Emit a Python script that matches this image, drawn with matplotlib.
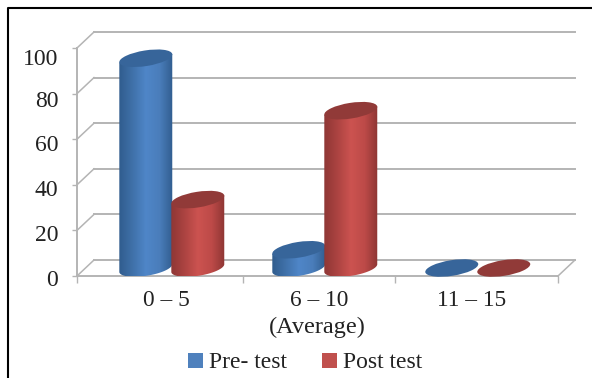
import numpy as np
import matplotlib
matplotlib.use("Agg")
import matplotlib.pyplot as plt
from matplotlib.lines import Line2D
from matplotlib.patches import Ellipse, PathPatch, Patch
from matplotlib.path import Path
from matplotlib.transforms import Affine2D, IdentityTransform
from matplotlib.colors import LinearSegmentedColormap

categories = ["0 – 5", "6 – 10", "11 – 15"]
series_names = ["Pre- test", "Post test"]
pre_test = [92, 8, 0]
post_test = [30, 69, 0]
y_ticks = [0, 20, 40, 60, 80, 100]
x_boundaries = [-0.582, 0.503, 1.497, 2.562]

W, H = 592, 378
plt.rcParams["font.family"] = ["Liberation Serif"]
fig = plt.figure(figsize=(W / 100, H / 100), dpi=100, facecolor="white")
ax = fig.add_axes([77 / W, 1 - 276 / H, (558 - 77) / W, (276 - 48) / H])
ax.set_xlim(x_boundaries[0], x_boundaries[-1])
ax.set_ylim(0, 100)
ax.patch.set_visible(False)

GRID = "#b4b4b4"
back = ax.transData + Affine2D().translate(17, 16)
mid = ax.transData + Affine2D().translate(8.5, 8)

# walls and floor
for v in y_ticks:
    ax.plot([x_boundaries[0], x_boundaries[-1]], [v, v], color=GRID, lw=1.4, transform=back, clip_on=False, zorder=1)
    p0 = ax.transData.transform((x_boundaries[0], v))
    ax.plot([p0[0], p0[0] + 17], [p0[1], p0[1] + 16], color=GRID, lw=1.1,
            transform=IdentityTransform(), clip_on=False, zorder=1)
p1 = ax.transData.transform((x_boundaries[-1], 0))
ax.plot([p1[0], p1[0] + 17], [p1[1], p1[1] + 16], color=GRID, lw=1.1,
        transform=IdentityTransform(), clip_on=False, zorder=1)

for s in ["top", "right"]:
    ax.spines[s].set_visible(False)
for s in ["left", "bottom"]:
    ax.spines[s].set_color(GRID)
    ax.spines[s].set_linewidth(1.4)
    ax.spines[s].set_zorder(1.5)

# axes ticks and labels
ax.set_yticks(y_ticks)
ax.tick_params(axis="y", length=3.5, width=1, color=GRID, labelsize=17, pad=10, labelcolor="#222222")
ax.set_xticks(x_boundaries)
ax.set_xticklabels([])
ax.tick_params(axis="x", which="major", length=5, width=1, color=GRID)
ax.set_xticks([0, 1, 2], minor=True)
ax.set_xticklabels(categories, minor=True, fontsize=16.8, color="#222222")
ax.tick_params(axis="x", which="minor", length=0, pad=10)
ax.set_xlabel("(Average)", fontsize=17.5, color="#222222", labelpad=4)

label_shift = [2, 3, 3, 4, 5, 9]
for lab, d in zip(ax.get_yticklabels(), label_shift):
    lab.set_transform(lab.get_transform() + Affine2D().translate(0, -d))

# cylinders
A, B, TILT = 26.8, 7.8, np.deg2rad(9)
GROUP_OFFSET = -0.018
HALF = 26.0 / 153


def cylinder(x, v, side_stops, top_col, z):
    cx, cy0 = mid.transform((x, 0))
    _, cy1 = mid.transform((x, v))
    ax.add_patch(Ellipse((cx, cy1), 2 * A, 2 * B, angle=np.rad2deg(TILT), facecolor=top_col,
                         edgecolor="none", transform=IdentityTransform(), clip_on=False, zorder=z + 0.2))
    if v <= 0:
        return
    t = np.linspace(np.pi, 2 * np.pi, 60)
    ex = A * np.cos(t) * np.cos(TILT) - B * np.sin(t) * np.sin(TILT)
    ey = A * np.cos(t) * np.sin(TILT) + B * np.sin(t) * np.cos(TILT)
    lower = np.column_stack([cx + ex, cy0 + ey])
    upper = np.array([[cx + ex[-1], cy1 + ey[-1]], [cx + ex[0], cy1 + ey[0]]])
    verts = np.vstack([lower, upper, lower[:1]])
    clip = PathPatch(Path(verts), transform=IdentityTransform(), facecolor="none", edgecolor="none")
    ax.add_patch(clip)
    cmap = LinearSegmentedColormap.from_list("c", side_stops)
    grad = np.linspace(0, 1, 128).reshape(1, -1)
    inv = ax.transData.inverted()
    x0, y0 = inv.transform((cx - A - 1, cy0 - 12))
    x1, y1 = inv.transform((cx + A + 1, cy1 + 12))
    im = ax.imshow(grad, cmap=cmap, extent=[x0, x1, y0, y1], aspect="auto", zorder=z, interpolation="bilinear")
    im.set_clip_path(clip)


blue_side = ["#2f5b8c", "#3f70a8", "#4f86c8", "#4a7dba", "#2f5b8c"]
red_side = ["#8c3634", "#ab4341", "#cc5350", "#bd4a48", "#8a3432"]
for i in range(len(categories)):
    cylinder(i + GROUP_OFFSET - HALF, pre_test[i], blue_side, "#37659a", 3)
    cylinder(i + GROUP_OFFSET + HALF, post_test[i], red_side, "#913a38", 4)

ax.set_xlim(x_boundaries[0], x_boundaries[-1])
ax.set_ylim(0, 100)

# legend
handles = [Patch(facecolor="#4f81bd", label=series_names[0]), Patch(facecolor="#c0504d", label=series_names[1])]
fig.legend(handles=handles, loc="center", bbox_to_anchor=(305 / W, 1 - 363 / H), ncol=2, frameon=False,
           fontsize=17, handlelength=0.62, handleheight=0.62, handletextpad=0.25, columnspacing=1.5,
           labelcolor="#222222")

# outer frame
fig.add_artist(Line2D([8 / W, 8 / W, 1], [0, 1 - 8 / H, 1 - 8 / H], color="black", lw=1.5,
                      transform=fig.transFigure))

fig.savefig("out.png", dpi=100, facecolor="white")
